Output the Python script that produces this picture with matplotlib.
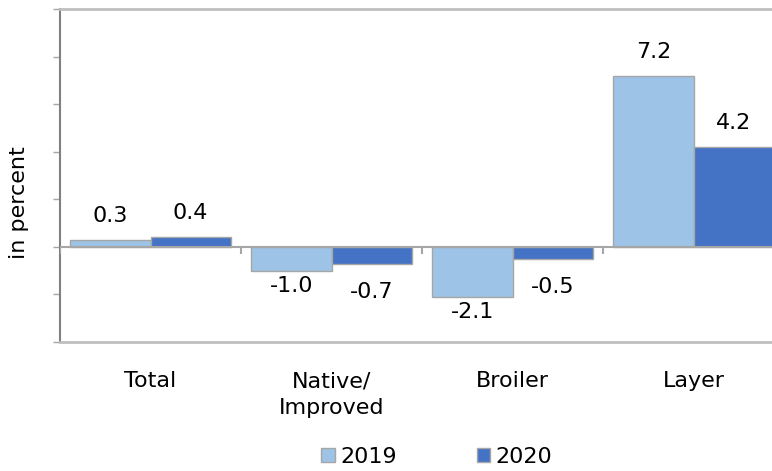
import matplotlib
matplotlib.use("Agg")
import matplotlib.pyplot as plt
import numpy as np

categories = ["Total", "Native/\nImproved", "Broiler", "Layer"]
series_names = ["2019", "2020"]
values_2019 = [0.3, -1.0, -2.1, 7.2]
values_2020 = [0.4, -0.7, -0.5, 4.2]
y_ticks = [-4, -2, 0, 2, 4, 6, 8, 10]

plt.rcParams['font.family'] = ['DejaVu Sans']
FS = 16

W, H = 772, 471
fig = plt.figure(figsize=(W / 100, H / 100), dpi=100)
left_px, right_px, top_px, bot_px = 60, 784, 9, 342
ax = fig.add_axes([left_px / W, 1 - bot_px / H, (right_px - left_px) / W, (bot_px - top_px) / H])

colors = ["#9DC3E6", "#4472C4"]
edge = "#A6A6A6"
x = np.arange(len(categories))
bw = 0.442
series = [values_2019, values_2020]
neg_gap = [4, 13]   # points
pos_gap = [10, 10]
for i, (vals, name) in enumerate(zip(series, series_names)):
    xs = x + (i - 0.5) * bw
    ax.bar(xs, vals, width=bw, color=colors[i], edgecolor=edge, linewidth=1, label=name, zorder=2)
    for xx, v in zip(xs, vals):
        if v >= 0:
            ax.annotate(f"{v:.1f}", (xx, v), xytext=(0, pos_gap[i]), textcoords="offset points",
                        ha="center", va="bottom", fontsize=FS)
        else:
            ax.annotate(f"{v:.1f}", (xx, v), xytext=(0, -neg_gap[i]), textcoords="offset points",
                        ha="center", va="top", fontsize=FS)

ax.set_xlim(-0.5, len(categories) - 0.5)
ax.set_ylim(y_ticks[0], y_ticks[-1])
ax.set_yticks(y_ticks)
ax.set_yticklabels([])
ax.tick_params(axis="y", length=5, width=1, color="#A6A6A6", direction="out")
ax.set_xticks(x)
ax.set_xticklabels(categories, fontsize=FS, linespacing=1.4)
ax.tick_params(axis="x", length=0, pad=21)

ax.axhline(0, color="#A6A6A6", linewidth=1.5, zorder=3)
ax.vlines(np.arange(len(categories) + 1) - 0.5, 0, -0.3, color="#A6A6A6", linewidth=1.5, zorder=3)

for s in ["top", "bottom"]:
    ax.spines[s].set_color("#BFBFBF")
    ax.spines[s].set_linewidth(2)
ax.spines["left"].set_color("#808080")
ax.spines["left"].set_linewidth(1.5)
ax.spines["right"].set_visible(False)

fig.text(19 / W, 1 - 203 / H, "in percent", rotation=90, ha="center", va="center", fontsize=FS)

fig.legend(loc="center", bbox_to_anchor=(437 / W, 1 - 457 / H), ncol=2, frameon=False,
           fontsize=FS, handlelength=0.6, handleheight=0.6, handletextpad=0.25,
           columnspacing=3.6)

fig.savefig("out.png", dpi=100)
